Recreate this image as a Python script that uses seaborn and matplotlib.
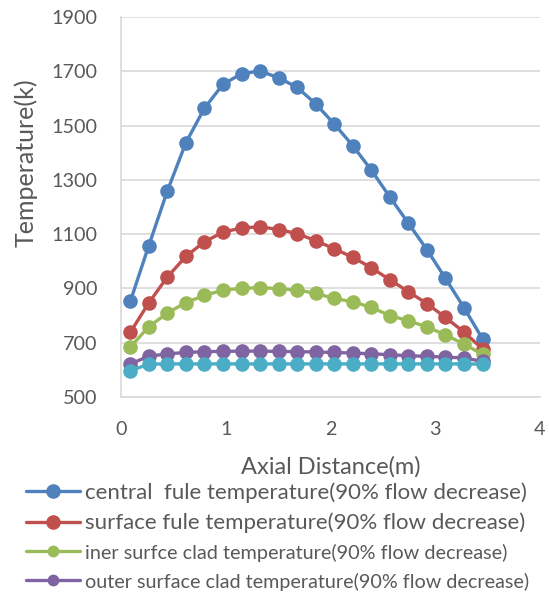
import matplotlib
matplotlib.use("Agg")
import matplotlib.pyplot as plt
import seaborn as sns
import numpy as np

# Axial node positions (m)
axial_distance = [0.0885, 0.2655, 0.4425, 0.6195, 0.7965, 0.9735, 1.1505, 1.3275, 1.5045, 1.6815,
                  1.8585, 2.0355, 2.2125, 2.3895, 2.5665, 2.7435, 2.9205, 3.0975, 3.2745, 3.4515]

central_fuel = [852, 1058, 1259, 1437, 1564, 1652, 1691, 1701, 1676, 1641,
                1580, 1506, 1426, 1336, 1237, 1140, 1043, 937, 829, 714]
surface_fuel = [738, 847, 942, 1018, 1072, 1107, 1123, 1127, 1117, 1102,
                1076, 1046, 1015, 976, 932, 888, 844, 793, 739, 677]
inner_clad = [684, 759, 809, 848, 874, 894, 900, 903, 899, 894,
              882, 863, 851, 830, 800, 781, 758, 729, 695, 657]
outer_clad = [622, 650, 659, 664, 667, 668, 669, 669, 668, 667,
              666, 664, 662, 659, 656, 652, 650, 647, 644, 631]
coolant = [597, 621, 622, 622, 622, 622, 622, 622, 622, 622,
           622, 622, 622, 622, 622, 622, 622, 622, 622, 621]

series_labels = [
    "central  fule temperature(90% flow decrease)",
    "surface fule temperature(90% flow decrease)",
    "iner surfce clad temperature(90% flow decrease)",
    "outer surface clad temperature(90% flow decrease)",
    "_nolegend_",
]
series_values = [central_fuel, surface_fuel, inner_clad, outer_clad, coolant]
colors = ["#4F81BD", "#C0504D", "#9BBB59", "#8064A2", "#4BACC6"]
legend_sizes = [16.0, 16.0, 14.3, 14.2]
legend_marker_sizes = [10.5, 10.5, 8.5, 8.5]

x_ticks = [0, 1, 2, 3, 4]
y_ticks = [500, 700, 900, 1100, 1300, 1500, 1700, 1900]

sns.set_theme(style="white")
plt.rcParams['font.family'] = ['Lato', 'DejaVu Sans']

fig = plt.figure(figsize=(5.49, 5.98), dpi=100)
ax = fig.add_axes([121/549, 1-397/598, 419/549, 380/598])

for vals, lab, col in zip(series_values, series_labels, colors):
    sns.lineplot(x=axial_distance, y=vals, ax=ax, color=col, marker='o',
                 markersize=10.5, markeredgewidth=0, linewidth=2.4, label=lab)

ax.set_xlim(0, 4)
ax.set_ylim(500, 1900)
ax.set_xticks(x_ticks)
ax.set_yticks(y_ticks)
ax.tick_params(axis='both', length=0, pad=17, labelsize=14.2, labelcolor="#595959")
ax.yaxis.grid(True, color="#D9D9D9", linewidth=1.2)
ax.xaxis.grid(False)
for s in ['top', 'right']:
    ax.spines[s].set_visible(False)
for s in ['left', 'bottom']:
    ax.spines[s].set_color("#D9D9D9")
    ax.spines[s].set_linewidth(1.2)
ax.set_axisbelow(True)

ax.set_xlabel("Axial Distance(m)", fontsize=17, color="#595959")
ax.set_ylabel("Temperature(k)", fontsize=18, color="#595959")
ax.xaxis.set_label_coords(0.5, -0.155)
ax.yaxis.set_label_coords(-0.2, 0.616)

ax.get_legend().remove()
handles, labels = ax.get_legend_handles_labels()
leg = fig.legend(handles, labels, loc='upper left', bbox_to_anchor=(26/549, 1-482/598),
                 frameon=False, fontsize=16, handlelength=2.45, handletextpad=0.22,
                 labelspacing=0.46, borderaxespad=0, borderpad=0)
for t, fs in zip(leg.get_texts(), legend_sizes):
    t.set_color("#595959")
    t.set_fontsize(fs)
for h, ms in zip(leg.legend_handles, legend_marker_sizes):
    h.set_markersize(ms)

fig.savefig("out.png", dpi=100)
